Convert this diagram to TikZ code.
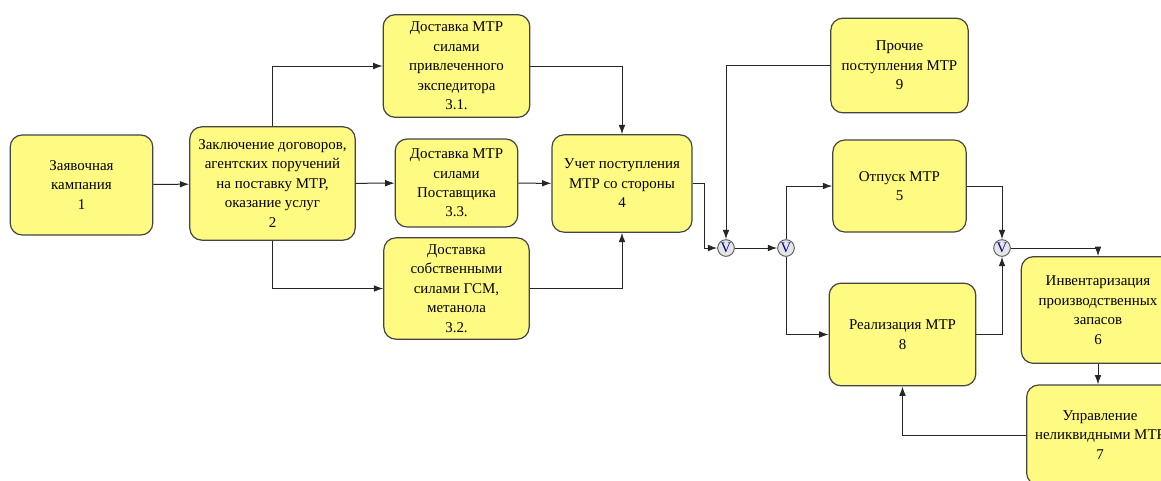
\documentclass[tikz,border=0pt]{standalone}
\usepackage{fontspec}
\setmainfont{Liberation Serif}
\usepackage{tikz}
\usetikzlibrary{arrows.meta}

\definecolor{boxfill}{HTML}{FFFA82}
\definecolor{boxline}{HTML}{444444}

\begin{document}
\begin{tikzpicture}[
			x=0.75pt, y=-0.75pt,
			>={Latex[length=7pt,width=5pt]},
			font=\fontsize{11.2}{14.6}\selectfont,
			stage/.style={rectangle, rounded corners=9pt, draw=boxline, fill=boxfill, line width=0.9pt, align=center, inner sep=1pt},
			gate/.style={circle, draw=black!65, fill=black!10, line width=0.7pt, minimum size=12.5pt, inner sep=0pt, font=\fontsize{11}{11}\selectfont\color{blue!60!black}},
			flow/.style={line width=0.75pt, black!85},
			]
			\useasboundingbox (0,0) rectangle (1161,480);
			%Nodes
				\node[stage, minimum width=107pt, minimum height=75pt]		(box-1)		at (81.5,185)		{Заявочная\\кампания\\1};
				\node[stage, minimum width=124pt, minimum height=85pt]		(box-2)		at (272.5,183.5)	{Заключение договоров,\\агентских поручений\\на поставку МТР,\\оказание услуг\\2};
				\node[stage, minimum width=110pt, minimum height=77pt]		(box-31)	at (456.5,66)		{Доставка МТР\\силами\\привлеченного\\экспедитора\\3.1.};
				\node[stage, minimum width=92pt, minimum height=66pt]		(box-33)	at (456.5,183)		{Доставка МТР\\силами\\Поставщика\\3.3.};
				\node[stage, minimum width=109pt, minimum height=76pt]		(box-32)	at (456.5,288.5)	{Доставка\\собственными\\силами ГСМ,\\метанола\\3.2.};
				\node[stage, minimum width=105pt, minimum height=73pt]		(box-4)		at (622,183.5)		{Учет поступления\\МТР со стороны\\4};
				\node[stage, minimum width=103pt, minimum height=71pt]		(box-9)		at (899.5,65.5)		{Прочие\\поступления МТР\\9};
				\node[stage, minimum width=100pt, minimum height=69pt]		(box-5)		at (899.5,186)		{Отпуск МТР\\5};
				\node[stage, minimum width=110pt, minimum height=77pt]		(box-8)		at (902.5,334.5)	{Реализация МТР\\8};
				\node[stage, minimum width=115pt, minimum height=80pt]		(box-6)		at (1098,310)		{Инвентаризация\\производственных\\запасов\\6};
				\node[stage, minimum width=110pt, minimum height=75pt]		(box-7)		at (1100,435)		{Управление\\неликвидными МТР\\7};
				\node[gate]		(gate-1)		at (726,248)		{V};
				\node[gate]		(gate-2)		at (786,248)		{V};
				\node[gate]		(gate-3)		at (1002,248)		{V};

			%Lines
				\draw[flow,->] (box-1) -- (box-2);
				\draw[flow,->] (box-2.north) |- (box-31);
				\draw[flow,->] (box-2) -- (box-33);
				\draw[flow,->] (box-2.south) |- (box-32);
				\draw[flow,->] (box-31) -| (box-4.north);
				\draw[flow,->] (box-33) -- (box-4);
				\draw[flow,->] (box-32) -| (box-4.south);
				\draw[flow,->] (box-4.east) -- ++(12,0) |- (gate-1);
				\draw[flow,->] (box-9) -| (gate-1.north);
				\draw[flow,->] (gate-1) -- (gate-2);
				\draw[flow,->] (gate-2.north) |- (box-5);
				\draw[flow,->] (gate-2.south) |- (box-8);
				\draw[flow,->] (box-5) -| (gate-3.north);
				\draw[flow,->] (box-8) -| (gate-3.south);
				\draw[flow,->] (gate-3) -| (box-6.north);
				\draw[flow,->] (box-6.south) -- (box-6.south |- box-7.north);
				\draw[flow,->] (box-7) -| (box-8.south);
		\end{tikzpicture}
\end{document}
